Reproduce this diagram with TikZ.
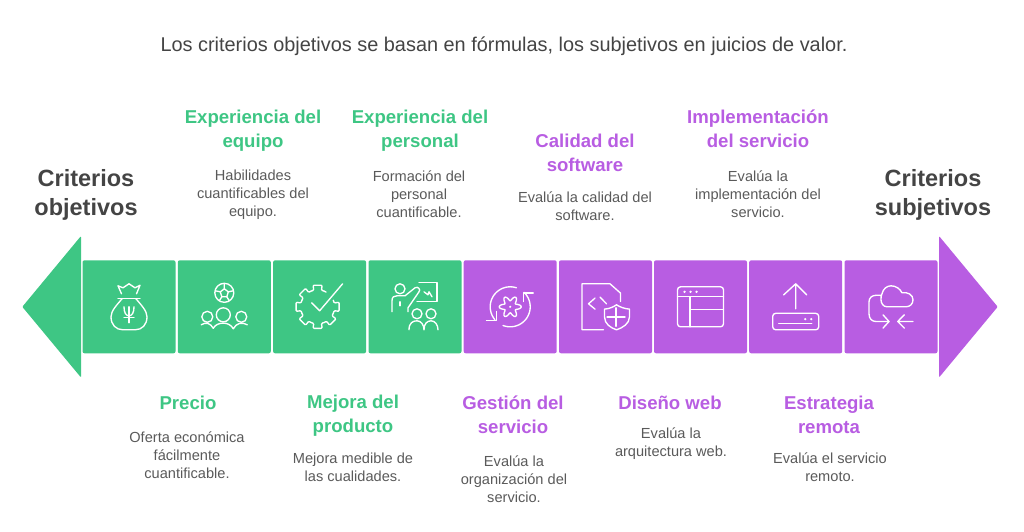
\documentclass[tikz,border=0pt]{standalone}
\usepackage{fontspec}
\setmainfont{Liberation Sans}
\definecolor{greenfill}{HTML}{3EC684}
\definecolor{purplefill}{HTML}{B85DE2}
\definecolor{darktext}{HTML}{444444}
\definecolor{bodytext}{HTML}{5A5A5A}
\tikzset{
  tile/.style={minimum width=93pt,minimum height=93pt,inner sep=0pt,rounded corners=2pt},
  tilegreen/.style={tile,fill=greenfill},
  tilepurple/.style={tile,fill=purplefill},
  heading/.style={align=center,font=\fontsize{18.6}{24}\selectfont\bfseries,inner sep=0pt},
  headgreen/.style={heading,text=greenfill},
  headpurple/.style={heading,text=purplefill},
  bodyline/.style={align=center,font=\fontsize{14.6}{18}\selectfont,text=bodytext,inner sep=0pt},
  sidelabel/.style={align=center,font=\fontsize{23.5}{29}\selectfont\bfseries,text=darktext,inner sep=0pt},
  iconline/.style={white,line width=1.35pt,line cap=round,line join=round}
}
\newcommand{\iconbag}{
\draw (-11,-21) -- (-6,-19) -- (0,-23) -- (6,-19) -- (11,-21.5) -- (7.5,-13) (-7.5,-13) -- (-11,-21);
\draw (-11,-8) -- (11,-8);
\draw (-7,-8) .. controls (-12,-2) and (-18,4) .. (-18,10) .. controls (-18,18) and (-13,23) .. (-6,23) -- (6,23) .. controls (13,23) and (18,18) .. (18,10) .. controls (18,4) and (12,-2) .. (7,-8);
\draw (-5,0) .. controls (-5,6) and (-3,9) .. (0,9) .. controls (3,9) and (5,6) .. (5,0);
\draw (0,0) -- (0,16) (-5,11) -- (5,11);
}
\newcommand{\iconteam}{
\draw (0,-14) circle (9.5);
\draw (0,-18) -- (-4,-15) -- (-2.5,-10) -- (2.5,-10) -- (4,-15) -- cycle;
\draw (0,-18) -- (0,-23) (-4,-15) -- (-9,-16) (4,-15) -- (9,-16) (-2.5,-10) -- (-5,-6) (2.5,-10) -- (5,-6);
\draw (-1,8) circle (7) (-17,10) circle (5.5) (17,10) circle (5.5);
\draw (-23,18) .. controls (-19,15) and (-14,16) .. (-11,21.5) .. controls (-8,15) and (5,14) .. (9,22) .. controls (12,16) and (18,15) .. (23,18);
}
\newcommand{\icongear}{
\foreach \a in {0,45,...,270}
  \draw[shift={(-2,0)},rounded corners=1pt] (\a-22.5:17) -- (\a-13:17) -- (\a-12:22) -- (\a+12:22) -- (\a+13:17) -- (\a+22.5:17);
\draw[shift={(-2,0)},rounded corners=1pt] (292.5:17) -- (300:17);
\draw (-8,-4) -- (0,4) -- (23,-23);
}
\newcommand{\iconteacher}{
\draw (-15,-18) circle (5);
\draw (-23,5) -- (-23,-6) .. controls (-23,-10) and (-21,-11) .. (-18,-11) -- (-10,-11) -- (0,-19) .. controls (3,-21) and (6,-17) .. (4,-15) -- (-7,1) -- (-7,5);
\draw (-15,-5) -- (-15,-1);
\draw (4,-24) -- (22,-24) -- (22,-5) -- (2,-5);
\draw (9,-15) -- (13,-12) -- (14,-15) -- (17,-10);
\draw (2,7) circle (5) (16,7) circle (5);
\draw (-6,23) .. controls (-6,16) and (-2,14) .. (2,14) .. controls (6,14) and (9,18) .. (9,23) .. controls (9,17) and (12,14) .. (16,14) .. controls (20,14) and (23,18) .. (23,23);
}
\newcommand{\iconcycle}{
\draw plot[domain=-72:-220,samples=40,smooth] (\x:20);
\draw plot[domain=111:-46,samples=40,smooth] (\x:20);
\draw (-23.7,13.7) -- (-13.7,13.7) -- (-13.7,4.7);
\draw (13,-5.3) -- (13,-13.7) -- (23,-13.7);
\draw plot[domain=0:360,samples=73,smooth] (\x:{8.5+2.5*cos(6*\x)});
\fill (0,0) circle (1.2);
}
\newcommand{\iconshield}{
\draw (-2,23) -- (-23.5,23) -- (-23.5,-23) -- (4.5,-23) -- (15,-13.7) -- (15,-5.3);
\draw (-10.5,-8.7) -- (-17,-3) -- (-10.5,2.3) (-5.5,-9.7) -- (1,-3);
\draw (-1,2.3) .. controls (4,2) and (8,0) .. (11,-2) .. controls (14,0) and (19,2) .. (24,2.3) -- (24,10) .. controls (24,17) and (17,21) .. (11,23) .. controls (5,21) and (-1,17) .. (-1,10) -- cycle;
\draw (10.5,1) -- (10.5,19.5) (1.5,10.3) -- (19.5,10.3);
}
\newcommand{\iconwindow}{
\draw[rounded corners=3pt] (-23,-20) rectangle (23,20);
\draw (-23,-10) -- (23,-10) (-10.5,-10) -- (-10.5,20) (-10.5,3) -- (23,3);
\fill (-16,-15) circle (1.3) (-10,-15) circle (1.3) (-4,-15) circle (1.3);
}
\newcommand{\iconupload}{
\draw (0,2) -- (0,-23) (-12,-12) -- (0,-23) -- (11,-12);
\draw[rounded corners=3pt] (-23,6.5) rectangle (23,23);
\draw (-17,17) -- (16,17);
\fill (9.5,12.3) circle (1.3) (15.5,12.3) circle (1.3);
}
\newcommand{\iconcloud}{
\draw (-4,0) .. controls (-8,0) and (-10,-4) .. (-10,-7) .. controls (-10,-10) and (-10,-11) .. (-9,-13) .. controls (-8,-18) and (-4,-21) .. (0,-21) .. controls (5,-21) and (9,-18) .. (11,-14) .. controls (17,-15) and (22,-12) .. (22,-7) .. controls (22,-3) and (19,0) .. (15,0) -- cycle;
\draw (-10,-11.5) -- (-15,-11.5) .. controls (-19,-11.5) and (-22,-9) .. (-22,-5) -- (-22,7) .. controls (-22,12) and (-19,14.7) .. (-15,14.7) -- (-2,14.7);
\draw (-8,8) -- (-2,14.7) -- (-8,21.3);
\draw (22,14.7) -- (6.7,14.7) (13.3,8) -- (6.7,14.7) -- (13.3,21.3);
}
\begin{document}
\begin{tikzpicture}[x=1pt,y=-1pt]
\useasboundingbox (0,0) rectangle (1024,531);
\node[font=\fontsize{19.9}{24}\selectfont,text=darktext,inner sep=0pt] (title) at (504,46.5) {Los criterios objetivos se basan en fórmulas, los subjetivos en juicios de valor.};
% arrow ends
\fill[greenfill,rounded corners=1pt] (81,236) -- (22.3,306.8) -- (81,377.5) -- cycle;
\fill[purplefill,rounded corners=1pt] (939,236) -- (997.7,306.8) -- (939,377.5) -- cycle;
\node[sidelabel] (objetivos) at (86,195) {Criterios\\objetivos};
\node[sidelabel] (subjetivos) at (933,195) {Criterios\\subjetivos};
% tiles
\node[tilegreen] (precio) at (129,306.8) {};
\node[tilegreen] (equipo) at (224.3,306.8) {};
\node[tilegreen] (mejora) at (319.6,306.8) {};
\node[tilegreen] (personal) at (415,306.8) {};
\node[tilepurple] (gestion) at (510.2,306.8) {};
\node[tilepurple] (software) at (605.5,306.8) {};
\node[tilepurple] (web) at (700.5,306.8) {};
\node[tilepurple] (remota) at (795.7,306.8) {};
\node[tilepurple] (servicio) at (891,306.8) {};
% icons
\begin{scope}[iconline,shift={(precio.center)}]\iconbag\end{scope}
\begin{scope}[iconline,shift={(equipo.center)}]\iconteam\end{scope}
\begin{scope}[iconline,shift={(mejora.center)}]\icongear\end{scope}
\begin{scope}[iconline,shift={(personal.center)}]\iconteacher\end{scope}
\begin{scope}[iconline,shift={(gestion.center)}]\iconcycle\end{scope}
\begin{scope}[iconline,shift={(software.center)}]\iconshield\end{scope}
\begin{scope}[iconline,shift={(web.center)}]\iconwindow\end{scope}
\begin{scope}[iconline,shift={(remota.center)}]\iconupload\end{scope}
\begin{scope}[iconline,shift={(servicio.center)}]\iconcloud\end{scope}
% labels above
\node[headgreen] (h-equipo) at (253,131) {Experiencia del\\equipo};
\node[bodyline] (b-equipo) at (253,195) {Habilidades\\cuantificables del\\equipo.};
\node[headgreen] (h-personal) at (420,131) {Experiencia del\\personal};
\node[bodyline] (b-personal) at (419,194) {Formación del\\personal\\cuantificable.};
\node[headpurple] (h-software) at (585,153) {Calidad del\\software};
\node[bodyline] (b-software) at (585,206) {Evalúa la calidad del\\software.};
\node[headpurple] (h-servicio) at (758,129) {Implementación\\del servicio};
\node[bodyline] (b-servicio) at (758,194) {Evalúa la\\implementación del\\servicio.};
% labels below
\node[headgreen] (h-precio) at (188,403) {Precio};
\node[bodyline] (b-precio) at (187,455) {Oferta económica\\fácilmente\\cuantificable.};
\node[headgreen] (h-mejora) at (353,416) {Mejora del\\producto};
\node[bodyline] (b-mejora) at (353,467) {Mejora medible de\\las cualidades.};
\node[headpurple] (h-gestion) at (513,415) {Gestión del\\servicio};
\node[bodyline] (b-gestion) at (514,479) {Evalúa la\\organización del\\servicio.};
\node[headpurple] (h-web) at (670,403) {Diseño web};
\node[bodyline] (b-web) at (671,444) {Evalúa la\\arquitectura web.};
\node[headpurple] (h-remota) at (829,415) {Estrategia\\remota};
\node[bodyline] (b-remota) at (830,467) {Evalúa el servicio\\remoto.};
\end{tikzpicture}
\end{document}
